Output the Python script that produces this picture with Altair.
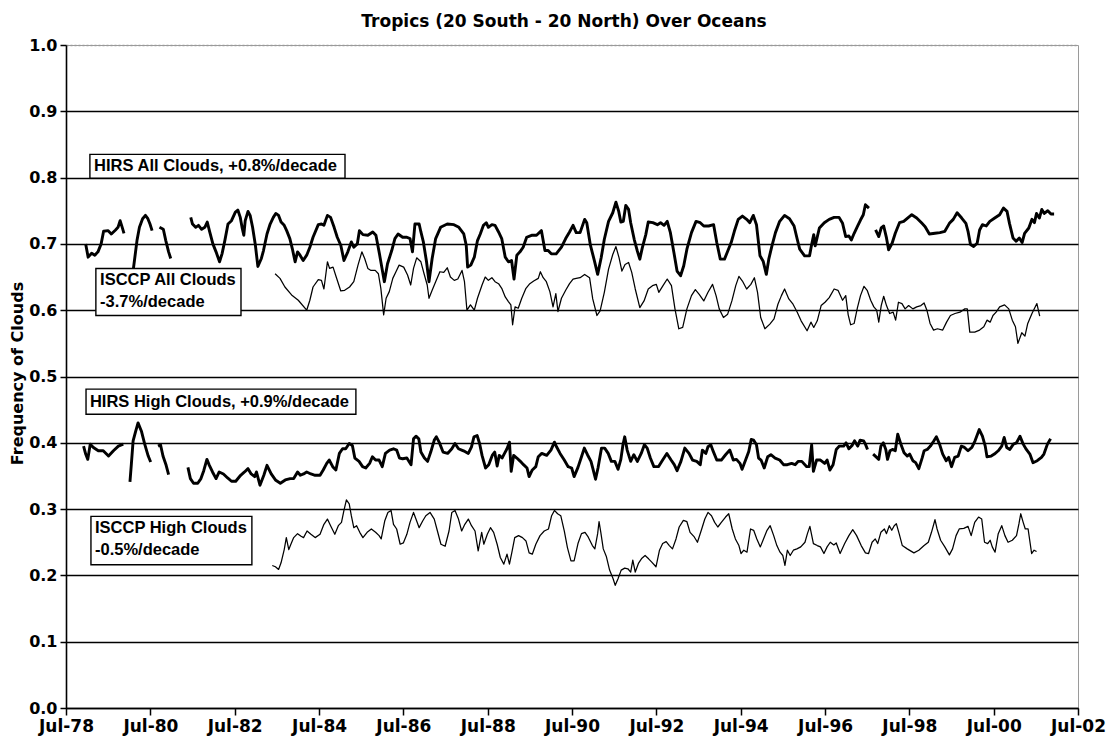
import altair as alt
import pandas as pd

START = pd.Timestamp("1978-07-01")

# (months after Jul-1978, frequency); None marks a gap in the record
hirs_all = [
    (5.6, .700), (6.3, .680), (7.3, .686), (8.2, .683), (9.1, .688), (10.0, .700), (10.7, .719), (12.0, .720),
    (12.9, .715), (14.1, .721), (14.8, .725), (15.4, .735), (16.0, .725), (16.5, .716), None,
    (19.0, .655), (20.2, .705), (20.9, .725), (21.8, .738), (22.6, .743), (23.3, .738), (23.9, .730), (24.5, .720), None,
    (26.6, .725), (27.7, .722), (28.4, .705), (29.2, .688), (29.8, .678), None,
    (35.5, .740), (36.0, .730), (36.9, .725), (37.7, .728), (38.6, .722), (39.5, .725), (40.2, .733), (40.9, .718),
    (41.8, .700), (42.7, .688), (43.7, .673), (44.4, .685), (45.2, .705), (46.1, .730), (47.1, .735), (48.2, .748),
    (48.9, .751), (49.6, .740), (50.1, .725), (50.6, .713), (51.0, .735), (51.8, .749), (52.4, .743), (53.1, .725),
    (53.9, .698), (54.6, .666), (55.6, .678), (56.2, .690), (57.2, .715), (58.1, .730), (59.0, .740), (59.7, .746),
    (60.5, .743), (61.2, .733), (62.1, .728), (62.8, .720), (63.7, .708), (64.4, .693), (65.2, .673), (65.9, .688),
    (66.6, .683), (67.5, .675), (68.5, .683), (69.4, .695), (70.3, .710), (71.8, .729),
    (72.7, .730), (73.4, .728), (74.4, .743), (75.3, .740), (76.3, .725), (77.2, .710), (78.2, .698), (79.1, .675),
    (80.2, .688), (81.2, .703), (81.9, .695), (82.9, .700), (83.5, .720), (84.5, .714), (85.9, .713), (87.3, .718),
    (88.2, .713), (89.2, .685), (90.1, .658), (90.6, .643), (91.5, .670), (92.7, .690), (93.6, .708), (94.5, .715),
    (95.8, .710), (97.0, .710), (97.9, .708), (98.6, .688), (99.3, .730), (100.5, .730), (101.0, .718), (101.7, .703),
    (102.6, .673), (103.3, .643), (104.2, .678), (105.2, .708), (106.6, .725), (108.5, .730), (110.4, .729), (111.8, .725),
    (113.2, .715), (113.9, .698), (114.3, .665), (115.2, .668), (116.2, .680), (117.1, .705), (117.9, .715), (118.8, .728),
    (119.6, .732), (120.2, .725), (121.2, .729), (122.1, .728), (123.1, .718), (124.0, .708), (125.0, .680), (125.9, .673),
    (126.8, .675), (127.5, .647), (128.3, .683), (129.2, .688), (130.1, .695), (131.1, .710), (132.5, .713), (133.9, .713),
    (135.3, .720), (136.3, .690), (137.2, .690), (138.1, .685), (139.5, .685), (141.0, .695), (142.2, .708), (143.3, .718),
    (144.3, .728), (145.2, .717),
    (146.3, .717), (147.6, .737), (148.2, .732), (149.2, .699), (150.4, .674), (151.3, .654), (152.3, .679), (153.2, .707),
    (154.4, .734), (155.6, .747), (156.5, .763), (157.3, .749), (157.9, .733), (158.6, .734), (159.3, .758), (160.1, .752),
    (160.7, .732), (161.7, .707), (162.6, .689), (163.3, .677), (164.0, .694), (165.0, .714), (165.7, .733), (167.0, .732),
    (168.3, .729), (169.2, .732), (170.2, .728), (171.1, .734), (172.0, .717), (173.0, .687), (173.9, .659), (174.9, .652),
    (175.8, .667), (176.7, .692), (178.0, .717), (179.3, .734), (180.5, .732), (181.5, .727), (182.9, .727), (184.3, .729),
    (185.2, .702), (186.2, .677), (187.4, .677), (188.3, .689), (189.3, .702), (190.2, .719), (191.3, .737), (192.5, .742),
    (193.7, .737), (194.6, .732), (195.6, .743), (196.5, .729), (197.5, .682), (198.4, .674), (199.3, .654), (200.0, .677),
    (200.9, .697), (201.9, .717), (203.1, .734), (204.5, .743), (205.9, .738), (207.2, .727), (208.1, .707), (208.8, .692),
    (210.2, .682), (211.6, .682), (212.2, .699), (212.8, .714), (213.2, .697), (214.4, .724), (215.8, .732), (217.2, .737),
    (218.6, .740), (220.0, .740), (221.0, .731), (221.9, .711), (222.8, .712), (223.5, .706), (224.3, .716), (225.2, .726),
    (226.1, .736), (226.9, .744), (227.5, .759), (228.5, .754), None,
    (230.4, .721), (231.3, .711), (232.0, .724), (232.7, .727), (233.5, .709), (234.1, .691), (235.1, .701), (236.0, .716),
    (237.2, .732), (238.4, .734), (239.5, .739), (240.7, .744), (242.1, .739), (243.6, .731), (244.5, .726), (245.7, .715),
    (247.3, .716), (248.7, .717), (250.1, .719), (251.4, .731), (252.5, .737), (253.6, .747), (254.9, .739), (256.1, .731),
    (256.7, .719), (257.4, .699), (258.3, .696), (259.3, .701), (260.0, .721), (260.8, .729), (261.9, .727), (262.9, .734),
    (264.3, .739), (265.7, .744), (266.8, .754), (267.8, .749), (268.5, .731), (269.5, .709), (270.4, .704), (271.3, .709),
    (272.1, .702), (272.8, .716), (274.0, .724), (274.9, .737), (275.6, .732), (276.2, .746), (277.0, .739), (277.7, .752),
    (278.4, .746), (279.4, .750), (280.3, .745), (281.2, .745),
]

isccp_all = [
    (59.5, .655), (60.9, .648), (62.3, .635), (64.2, .623), (66.1, .615), (68.5, .600), (69.4, .615), (70.3, .635),
    (71.8, .646), (72.7, .645), (73.4, .632), (74.4, .673), (75.0, .663), (76.0, .665), (76.9, .650), (78.2, .629),
    (79.3, .630), (80.7, .635), (81.9, .643), (83.1, .668), (84.2, .688), (85.0, .678), (85.9, .663), (86.8, .660),
    (88.0, .660), (88.9, .655), (89.6, .633), (90.4, .593), (91.1, .618), (92.0, .628), (93.0, .648), (93.9, .658),
    (94.8, .668), (96.1, .665), (97.2, .653), (98.1, .638), (98.9, .663), (99.8, .679), (101.0, .673), (101.9, .655),
    (102.8, .638), (103.3, .618), (104.2, .630), (105.2, .643), (106.4, .658), (107.5, .657), (108.5, .664), (109.4, .650),
    (110.5, .645), (111.5, .647), (112.7, .660), (113.4, .643), (114.1, .600), (115.1, .608), (116.2, .600), (117.1, .618),
    (118.4, .638), (119.3, .650), (120.2, .645), (121.2, .649), (122.1, .643), (123.1, .640), (124.0, .633), (125.0, .620),
    (125.9, .613), (126.6, .608), (127.1, .578), (127.8, .605), (128.7, .603), (129.7, .618), (130.9, .633), (132.0, .640),
    (133.1, .644), (134.4, .648), (135.0, .658), (135.8, .649), (136.7, .643), (137.7, .628), (138.6, .605), (139.4, .625),
    (140.0, .598), (141.0, .618), (142.2, .630), (143.3, .640), (144.3, .647), (145.2, .648),
    (146.3, .649), (147.6, .654), (149.0, .649), (149.9, .617), (151.1, .592), (152.0, .599), (153.2, .627), (154.4, .662),
    (155.6, .684), (156.5, .696), (157.4, .679), (158.2, .659), (159.1, .669), (160.1, .672), (161.0, .657), (162.0, .632),
    (163.3, .604), (164.5, .614), (165.7, .632), (166.9, .637), (168.0, .639), (168.7, .627), (169.9, .637), (171.1, .647),
    (172.3, .637), (173.3, .602), (174.4, .572), (175.5, .574), (176.7, .602), (178.0, .622), (179.1, .631), (180.2, .624),
    (181.5, .614), (182.7, .627), (184.0, .639), (185.0, .622), (185.9, .602), (187.1, .589), (188.3, .594), (189.5, .614),
    (190.6, .637), (191.5, .651), (192.5, .644), (193.7, .632), (194.9, .639), (195.9, .649), (196.8, .627), (197.7, .589),
    (198.9, .572), (200.3, .579), (201.5, .587), (202.6, .609), (203.6, .622), (204.5, .632), (205.7, .617), (206.9, .609),
    (208.1, .597), (209.2, .584), (210.9, .569), (212.0, .582), (212.8, .574), (213.8, .584), (214.9, .607), (216.0, .612),
    (217.2, .619), (218.6, .632),
    (219.7, .630), (221.0, .615), (221.9, .622), (222.6, .593), (223.3, .578), (224.3, .580), (225.2, .603), (226.1, .622),
    (227.1, .636), (228.0, .630), (229.0, .615), (229.9, .605), (230.7, .600), (231.3, .582), (232.0, .607), (232.7, .621),
    (233.5, .607), (234.4, .595), (235.4, .597), (236.1, .585), (236.9, .612), (237.9, .610), (238.8, .602), (239.8, .607),
    (241.0, .602), (242.1, .605), (243.3, .607), (244.2, .611), (245.0, .600), (245.9, .580), (246.9, .570), (248.0, .572),
    (249.5, .570), (250.6, .582), (251.7, .592), (253.0, .595), (254.4, .597), (255.8, .602), (256.5, .602), (257.2, .567),
    (258.6, .567), (260.0, .570), (261.2, .575), (262.1, .585), (263.0, .582), (263.8, .592), (264.7, .597), (265.7, .605),
    (267.1, .608), (268.3, .602), (269.3, .585), (270.2, .575), (270.9, .550), (272.0, .566), (272.9, .561), (273.7, .580),
    (274.9, .595), (276.3, .610), (277.1, .591),
]

hirs_high = [
    (5.0, .395), (5.6, .383), (6.2, .375), (6.9, .398), (7.8, .393), (9.2, .388), (10.6, .388), (12.1, .380),
    (13.5, .388), (14.9, .395), (16.3, .398), None,
    (18.2, .341), (18.6, .368), (19.1, .403), (19.8, .417), (20.5, .430), (21.5, .417), (22.4, .398), (23.4, .380),
    (24.1, .371), None,
    (26.2, .395), (26.9, .397), (27.6, .380), (28.5, .366), (29.2, .352), None,
    (34.7, .363), (35.4, .346), (36.3, .339), (37.5, .339), (38.4, .346), (39.2, .358), (40.1, .375), (40.8, .366),
    (41.7, .356), (42.7, .346), (43.6, .356), (44.8, .353), (46.0, .347), (47.1, .342), (48.3, .342), (49.7, .351),
    (50.8, .356), (51.8, .361), (52.7, .353), (53.7, .349), (54.2, .356), (55.2, .336), (56.3, .351), (57.2, .366),
    (58.4, .353), (59.6, .344), (61.0, .339), (62.4, .344), (63.8, .346), (64.8, .346), (65.9, .356), (66.7, .351),
    (67.6, .353), (68.5, .356), (69.7, .353), (70.9, .351), (72.3, .351),
    (73.2, .359), (74.2, .369), (74.9, .374), (75.9, .364), (76.8, .359), (77.8, .384), (78.7, .391), (79.6, .391),
    (80.6, .399), (81.5, .396), (82.2, .377), (83.4, .372), (84.4, .364), (85.3, .362), (86.4, .369), (87.2, .379),
    (88.1, .374), (89.1, .374), (90.0, .364), (90.9, .384), (92.1, .389), (93.2, .391), (94.1, .389), (94.9, .377),
    (95.8, .376), (97.0, .377), (98.2, .367), (98.9, .406), (99.6, .410), (100.4, .406), (101.0, .386), (102.0, .377),
    (102.9, .372), (103.8, .386), (104.8, .404), (105.4, .409), (106.2, .401), (107.3, .386), (108.6, .384), (109.8, .391),
    (110.7, .399), (111.7, .391), (112.6, .389), (113.5, .387), (114.5, .384), (115.4, .394), (116.1, .409), (117.0, .411),
    (117.7, .399), (118.4, .381), (119.4, .362), (120.3, .367), (121.3, .381), (122.0, .386), (122.7, .365), (123.3, .381),
    (124.1, .377), (124.8, .384), (125.5, .391), (126.2, .401), (126.7, .357), (127.4, .381), (128.3, .377), (129.3, .372),
    (130.2, .367), (131.2, .362), (131.8, .349), (132.7, .359), (133.7, .364), (134.4, .379), (135.4, .384), (136.8, .381),
    (138.0, .389), (139.0, .401), (139.6, .394), (140.6, .384), (141.8, .374), (142.9, .364), (143.9, .362), (144.6, .349),
    (145.7, .363),
    (146.7, .379), (147.5, .392), (148.4, .382), (149.4, .372), (150.0, .360), (150.7, .345), (151.4, .362), (152.4, .392),
    (153.3, .392), (154.3, .384), (155.2, .372), (156.2, .372), (157.1, .360), (157.9, .375), (158.5, .397), (159.0, .409),
    (159.7, .389), (160.7, .372), (161.6, .382), (162.6, .372), (163.7, .384), (164.6, .397), (165.4, .392), (166.3, .377),
    (167.3, .364), (168.6, .364), (169.8, .374), (171.0, .384), (172.2, .374), (173.1, .367), (173.9, .358), (175.0, .372),
    (176.1, .392), (177.3, .384), (178.3, .374), (179.5, .372), (180.5, .367), (181.1, .389), (182.1, .384), (182.7, .394),
    (183.5, .397), (184.2, .387), (185.2, .374), (186.5, .374), (187.7, .382), (188.9, .389), (189.9, .374), (190.8, .375),
    (191.8, .369), (192.4, .360), (193.4, .374), (194.3, .387), (195.0, .405), (195.7, .404), (196.5, .397), (197.1, .377),
    (197.8, .374), (198.7, .362), (199.7, .379), (200.6, .382), (201.8, .377), (203.1, .374), (204.2, .367), (205.3, .367),
    (206.5, .369), (207.5, .367), (208.4, .372), (209.4, .372), (210.8, .364), (211.5, .364), (212.2, .397), (212.7, .357),
    (213.6, .374), (214.7, .374), (215.9, .369), (216.6, .374), (217.4, .359), (218.3, .367), (219.2, .390),
    (220.1, .395), (221.3, .395), (222.0, .400), (222.8, .391), (223.7, .396), (224.4, .403), (225.3, .395), (226.0, .404),
    (227.0, .403), (227.5, .398), (228.1, .390), None,
    (229.7, .383), (230.7, .378), (231.3, .375), (231.9, .395), (232.6, .400), (233.3, .390), (233.8, .375), (234.5, .388),
    (235.2, .390), (236.0, .388), (236.7, .413), (237.6, .398), (238.5, .385), (239.4, .380), (240.1, .383), (241.0, .373),
    (241.8, .370), (242.7, .361), (243.7, .378), (244.2, .388), (245.1, .390), (246.0, .395), (247.0, .403), (247.7, .409),
    (248.6, .398), (249.5, .383), (250.5, .373), (251.2, .378), (252.0, .364), (252.9, .378), (253.9, .380), (254.8, .395),
    (255.7, .393), (256.7, .388), (257.8, .393), (258.7, .403), (259.9, .420), (260.8, .410), (261.6, .395), (262.1, .379),
    (263.3, .380), (264.2, .383), (265.3, .388), (266.3, .395), (267.0, .408), (267.7, .393), (268.6, .390), (269.6, .398),
    (270.5, .400), (271.5, .410), (272.4, .398), (273.3, .390), (274.3, .383), (275.2, .370), (276.4, .373), (277.6, .378),
    (278.3, .383), (279.3, .398), (280.2, .406),
]

isccp_high = [
    (58.7, .215), (59.6, .213), (60.5, .209), (61.2, .219), (62.1, .239), (62.7, .257), (63.4, .239), (64.0, .247),
    (64.8, .257), (65.9, .263), (66.9, .259), (67.6, .257), (68.6, .267), (69.7, .262), (70.9, .257), (72.3, .262),
    (73.4, .277), (74.4, .285), (75.3, .275), (76.5, .262), (77.5, .275), (78.4, .280), (79.1, .298), (79.8, .314),
    (80.6, .308), (81.2, .290), (81.9, .272), (82.7, .275), (83.6, .265), (84.5, .257), (85.7, .265), (86.9, .270),
    (88.1, .265), (89.1, .260), (89.7, .255), (90.7, .282), (91.6, .295), (92.5, .298), (93.2, .277), (94.1, .270),
    (95.1, .247), (96.0, .249), (97.0, .262), (97.9, .280), (98.9, .295), (99.8, .282), (100.5, .272), (101.5, .282),
    (102.4, .290), (103.6, .295), (104.8, .285), (105.7, .267), (106.7, .247), (107.9, .244), (109.0, .267), (109.8, .295),
    (110.7, .298), (111.7, .285), (112.6, .267), (113.5, .277), (114.5, .285), (115.4, .275), (116.4, .267), (117.3, .237),
    (118.3, .265), (118.9, .247), (119.9, .262), (120.8, .272), (121.7, .265), (122.7, .247), (123.6, .227), (124.6, .217),
    (125.5, .232), (126.2, .217), (126.9, .235), (127.7, .257), (128.8, .260), (129.9, .257), (130.9, .252), (131.8, .234),
    (132.7, .232), (133.7, .247), (134.9, .260), (136.1, .267), (137.3, .270), (138.2, .290), (139.0, .298), (139.9, .293),
    (140.8, .290), (141.8, .267), (142.7, .242), (143.7, .222), (144.6, .222), (145.7, .248),
    (146.7, .263), (147.7, .265), (148.6, .258), (149.8, .245), (150.5, .240), (151.3, .263), (151.7, .281), (152.2, .265),
    (152.9, .240), (153.8, .228), (154.7, .208), (155.7, .195), (156.3, .185), (157.1, .195), (158.0, .208), (159.0, .211),
    (159.9, .210), (160.7, .205), (161.3, .223), (162.0, .205), (162.9, .218), (163.9, .226), (164.8, .230), (165.8, .225),
    (166.7, .220), (167.9, .213), (168.9, .238), (169.8, .248), (170.8, .251), (171.7, .245), (172.6, .240), (173.6, .255),
    (174.5, .273), (175.7, .283), (176.7, .281), (177.6, .265), (178.8, .258), (179.7, .250), (180.8, .268), (181.8, .285),
    (182.7, .295), (183.7, .290), (184.6, .280), (185.5, .273), (186.5, .280), (187.7, .288), (188.6, .293), (189.6, .270),
    (190.5, .255), (191.5, .245), (192.1, .233), (192.9, .238), (193.8, .235), (194.8, .270), (195.7, .268), (196.6, .255),
    (197.6, .243), (198.5, .255), (199.5, .268), (200.4, .275), (201.4, .260), (202.3, .245), (203.2, .235), (204.0, .230),
    (204.6, .215), (205.3, .238), (206.1, .230), (207.0, .238), (208.0, .240), (209.1, .243), (210.3, .250), (211.0, .263),
    (211.7, .274), (212.7, .248), (213.8, .245), (214.7, .243), (215.7, .233), (216.6, .243), (217.5, .250), (218.5, .246),
    (219.2, .249), (220.3, .233), (221.6, .248), (222.8, .260), (223.9, .269), (225.0, .260), (226.3, .245), (227.5, .234),
    (228.4, .233), (229.4, .250), (230.3, .255), (231.0, .248), (231.9, .265), (232.9, .270), (233.5, .263), (234.3, .275),
    (235.0, .268), (235.7, .275), (236.3, .278), (237.1, .263), (238.0, .245), (239.4, .240), (241.3, .234), (242.7, .238),
    (244.2, .245), (245.4, .250), (246.3, .265), (247.3, .284), (247.9, .270), (248.9, .253), (250.1, .243), (251.4, .231),
    (252.3, .240), (253.3, .260), (254.2, .270), (255.5, .271), (256.7, .274), (257.6, .260), (258.6, .280), (259.7, .288),
    (260.6, .285), (261.4, .250), (262.3, .248), (263.0, .253), (263.6, .243), (264.4, .235), (265.3, .263), (266.3, .275),
    (267.2, .260), (268.1, .250), (269.3, .253), (270.5, .260), (271.2, .278), (271.7, .293), (272.4, .280), (273.0, .270),
    (273.8, .270), (274.8, .233), (275.5, .238), (276.2, .236),
]

label_texts = [
    ["HIRS All Clouds, +0.8%/decade"],
    ["ISCCP All Clouds", "-3.7%/decade"],
    ["HIRS High Clouds, +0.9%/decade"],
    ["ISCCP High Clouds", "-0.5%/decade"],
]
tick_years = list(range(1978, 2003, 2))


def to_date(m):
    return (START + pd.Timedelta(days=m * 30.4375)).strftime("%Y-%m-%dT%H:%M:%S")


def frame(name, pts):
    rows, seg = [], 0
    for p in pts:
        if p is None:
            seg += 1
            continue
        rows.append({"series": name, "seg": f"{name}-{seg}", "date": to_date(p[0]), "value": p[1]})
    return pd.DataFrame(rows)


thick_df = pd.concat([frame("HIRS All", hirs_all), frame("HIRS High", hirs_high)])
thin_df = pd.concat([frame("ISCCP All", isccp_all), frame("ISCCP High", isccp_high)])

# annotation box layout (months after Jul-78, value range) and text anchors
box_layout = [(6.8, 79.4, 0.799, 0.835), (8.5, 49.8, 0.592, 0.663),
              (5.7, 82.5, 0.443, 0.481), (7.1, 52.9, 0.216, 0.289)]
text_layout = [(8.0, [0.817]), (9.7, [0.646, 0.613]), (6.8, [0.462]), (8.25, [0.271, 0.239])]

box_df = pd.DataFrame([{"x0": to_date(a), "x1": to_date(b), "y0": c, "y1": d} for a, b, c, d in box_layout])
text_rows = []
for (tx, ys), lines in zip(text_layout, label_texts):
    for yv, line in zip(ys, lines):
        text_rows.append({"x": to_date(tx), "y": yv, "label": line})
text_df = pd.DataFrame(text_rows)

FONT = "DejaVu Sans"

x_axis = alt.Axis(
    values=[alt.DateTime(year=y, month=7, date=1) for y in tick_years],
    format="%b-%y", title=None, grid=False,
    labelFont=FONT, labelFontWeight="bold", labelFontSize=17, labelColor="black",
    labelFlush=False, labelOverlap=False, labelPadding=3,
    tickColor="black", tickSize=7, tickWidth=1.5,
    domainColor="black", domainWidth=1.6,
)
y_axis = alt.Axis(
    values=[i / 10 for i in range(11)], format=".1f",
    grid=True,
    gridColor={"condition": {"test": "datum.value >= 0.99", "value": "#9a9a9a"}, "value": "black"},
    gridDash={"condition": {"test": "datum.value >= 0.99", "value": [2, 2]}, "value": []},
    gridWidth=1.6,
    labelFont=FONT, labelFontWeight="bold", labelFontSize=16, labelColor="black", labelPadding=3,
    tickColor="black", tickSize=6, tickWidth=1.5,
    domainColor="black", domainWidth=1.6,
    title="Frequency of Clouds", titleFont=FONT, titleFontWeight="bold", titleFontSize=16,
    titleColor="black", titleAngle=270, titleX=-49, titleY=328, titleBaseline="middle", titleAlign="center",
)

x_enc = alt.X("date:T", axis=x_axis,
              scale=alt.Scale(domain=[alt.DateTime(year=1978, month=7, date=1),
                                      alt.DateTime(year=2002, month=7, date=1)]))
y_enc = alt.Y("value:Q", axis=y_axis, scale=alt.Scale(domain=[0, 1]))

thick = alt.Chart(thick_df).mark_line(color="black", strokeWidth=2.9, strokeJoin="round").encode(
    x=x_enc, y=y_enc, detail="seg:N")
thin = alt.Chart(thin_df).mark_line(color="black", strokeWidth=1.25, strokeJoin="round").encode(
    x="date:T", y="value:Q", detail="seg:N")
boxes = alt.Chart(box_df).mark_rect(fill="white", stroke="black", strokeWidth=1.4).encode(
    x="x0:T", x2="x1:T", y="y0:Q", y2="y1:Q")
texts = alt.Chart(text_df).mark_text(
    align="left", baseline="middle", font="Liberation Sans", fontWeight="bold", fontSize=16.5, color="black"
).encode(x="x:T", y="y:Q", text="label:N")

chart = alt.layer(thick, thin, boxes, texts).properties(
    width=1012, height=663,
    title=alt.TitleParams("Tropics (20 South - 20 North) Over Oceans", font=FONT, fontSize=17,
                          fontWeight="bold", color="black", anchor="middle", dx=-8, offset=6),
    autosize=alt.AutoSizeParams(type="none"),
    padding={"left": 58, "top": 37, "right": 30, "bottom": 40},
).configure_view(stroke="#9a9a9a", strokeWidth=1)

chart.save("out.html", embed_options={"renderer": "svg", "actions": False})
